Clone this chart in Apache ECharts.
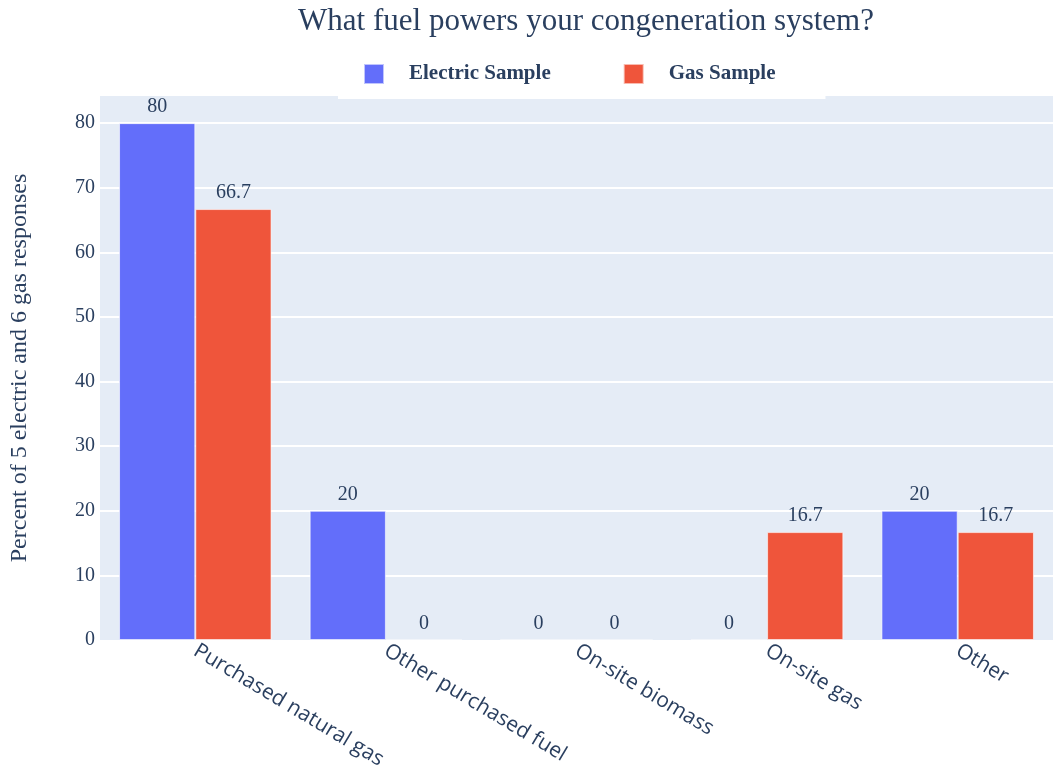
<!DOCTYPE html>
<html>
<head>
<meta charset="utf-8">
<script src="https://cdn.jsdelivr.net/npm/echarts@6/dist/echarts.min.js"></script>
<style>html,body{margin:0;padding:0;background:#fff}#c{width:1053px;height:774px}</style>
</head>
<body>
<div id="c"></div>
<script>
const categories = ["Purchased natural gas", "Other purchased fuel", "On-site biomass", "On-site gas", "Other"];
const electricSample = [80, 20, 0, 0, 20];
const gasSample = [66.7, 0, 0, 16.7, 16.7];
const seriesNames = ["Electric Sample", "Gas Sample"];
const titleText = "What fuel powers your congeneration system?";
const yAxisTitle = "Percent of 5 electric and 6 gas responses";

const serif = "'Liberation Serif', 'Times New Roman', serif";
const ink = "#2a3f5f";
const chart = echarts.init(document.getElementById('c'));
const labelCfg = {
  show: true, position: 'top', distance: 6,
  fontFamily: serif, fontSize: 20, color: ink,
  formatter: p => String(p.value)
};
chart.setOption({
  animation: false,
  title: {
    text: titleText, left: 581, top: 1, textAlign: 'center',
    textStyle: { fontFamily: serif, fontSize: 31, fontWeight: 'normal', color: ink }
  },
  legend: {
    data: seriesNames, left: 338, top: 50,
    backgroundColor: '#fff',
    padding: [13, 50, 14, 25],
    itemWidth: 20, itemHeight: 20, itemGap: 72,
    icon: 'rect',
    textStyle: { fontFamily: serif, fontSize: 21, fontWeight: 'bold', color: ink, padding: [0, 0, 0, 20] }
  },
  grid: {
    left: 100, right: 0, top: 96, bottom: 134,
    outerBoundsMode: 'none', containLabel: false,
    show: true, backgroundColor: '#E5ECF6', borderWidth: 0
  },
  xAxis: {
    type: 'category', data: categories,
    axisLine: { show: false }, axisTick: { show: false },
    axisLabel: { rotate: -31, margin: 9, fontFamily: "'Open Sans', sans-serif", fontSize: 21, color: ink, interval: 0 }
  },
  yAxis: {
    type: 'value', min: 0, max: 84.2, interval: 10,
    name: yAxisTitle, nameLocation: 'middle', nameGap: 68,
    nameTextStyle: { fontFamily: serif, fontSize: 24, color: ink },
    axisLine: { show: false }, axisTick: { show: false },
    axisLabel: { showMaxLabel: false, margin: 5, fontFamily: serif, fontSize: 20, color: ink },
    splitLine: { showMaxLine: false, showMinLine: false, lineStyle: { color: '#fff', width: 2 } }
  },
  series: [
    { name: seriesNames[0], type: 'bar', data: electricSample, barGap: '0%', barCategoryGap: '20%',
      itemStyle: { color: '#636EFA', borderColor: 'rgba(255,255,255,0.6)', borderWidth: 1 }, label: labelCfg },
    { name: seriesNames[1], type: 'bar', data: gasSample,
      itemStyle: { color: '#EF553B', borderColor: 'rgba(255,255,255,0.6)', borderWidth: 1 }, label: labelCfg }
  ]
});
</script>
</body>
</html>
